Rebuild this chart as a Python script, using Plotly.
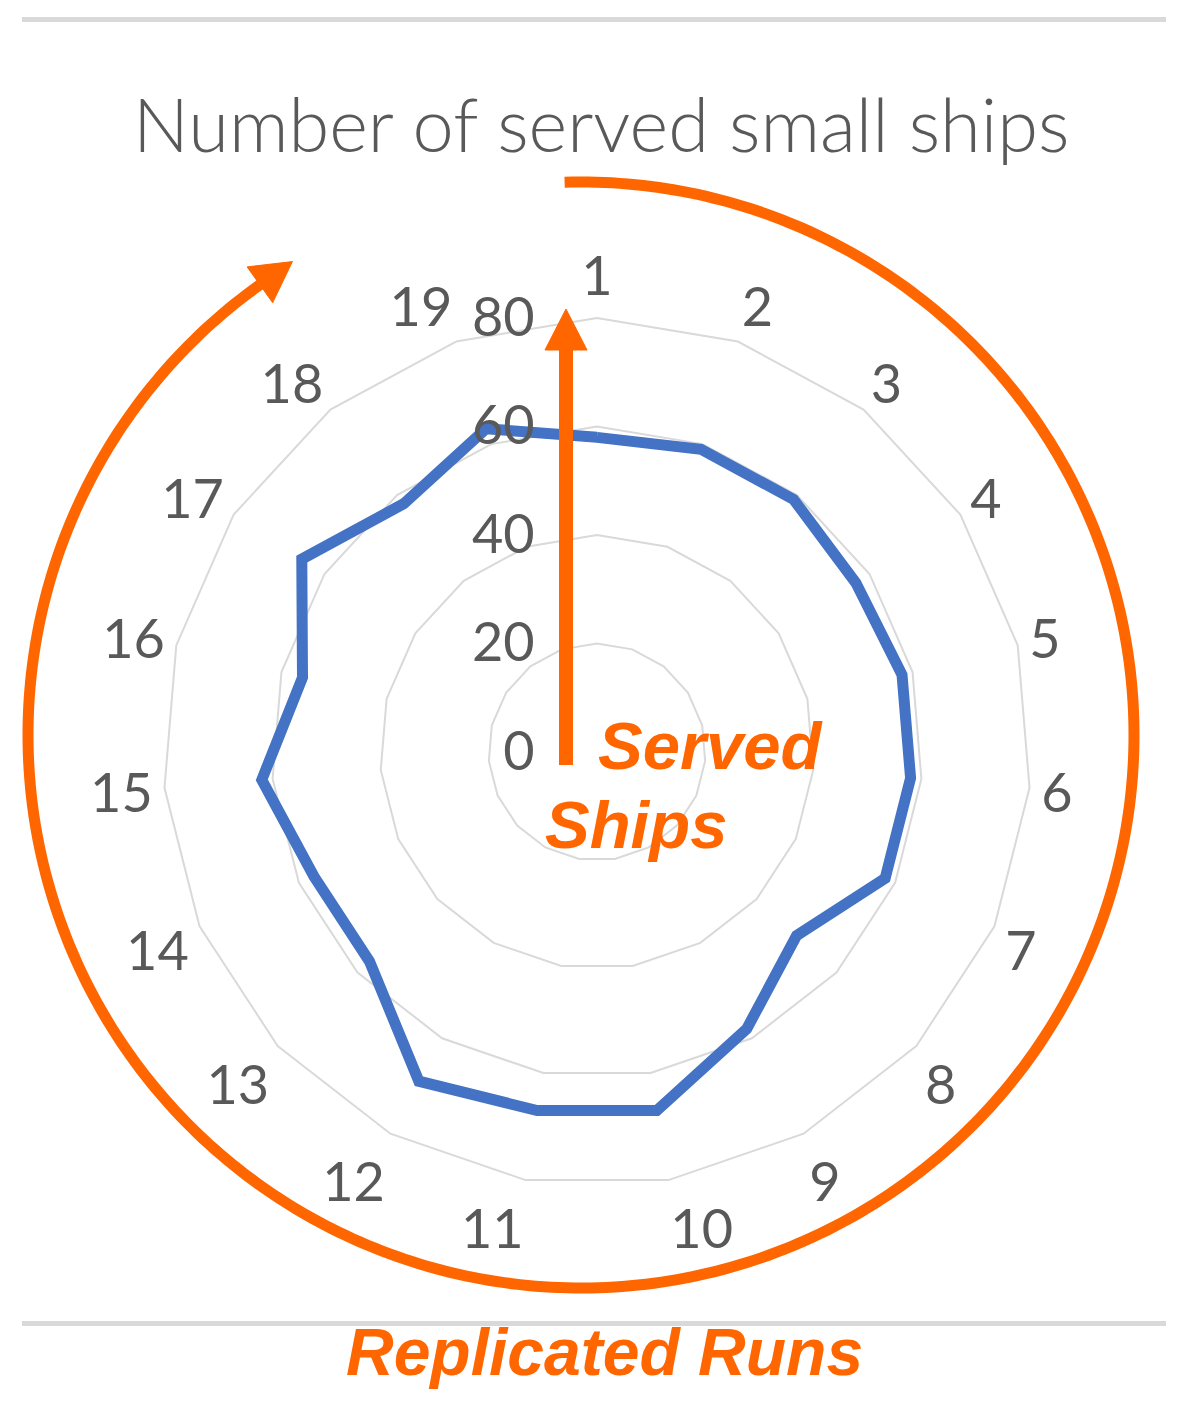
import numpy as np
import plotly.graph_objects as go

# ---------------- data ----------------
runs = [str(i) for i in range(1, 20)]
served = [58, 59, 59, 57, 58, 58, 58, 50, 58, 67, 67, 69, 57, 57, 62, 56, 65, 58, 63]
radial_ticks = [0, 20, 40, 60, 80]

title_text = "Number of served small ships"
inner_label_1 = "Served"
inner_label_2 = "Ships"
outer_label = "Replicated Runs"

# ---------------- layout helpers ----------------
OFF = 8                      # default page margin of the html body
FW, FH = 1190 - OFF, 1408 - OFF
ORANGE = "#FF6600"
GRAY_TXT = "#595959"
GRID = "#D9D9D9"


def px(x):
    return (x - OFF) / FW


def py(y):
    return 1 - (y - OFF) / FH


def path_from(points, close=False):
    s = "M " + " L ".join(f"{px(x):.5f},{py(y):.5f}" for x, y in points)
    return s + (" Z" if close else "")


# polar placement (page pixels)
CX, CY, R = 597, 752, 434

fig = go.Figure()
fig.add_trace(go.Scatterpolar(
    r=served + served[:1],
    theta=runs + runs[:1],
    mode="lines",
    line=dict(color="#4472C4", width=11),
    showlegend=False,
    hoverinfo="skip",
))

shapes = []
# gray separator lines
for yy in (19.5, 1323.5):
    shapes.append(dict(type="line", xref="paper", yref="paper",
                       x0=px(22), x1=px(1166), y0=py(yy), y1=py(yy),
                       line=dict(color=GRID, width=5), layer="above"))

# circular arrow (decoration)
acx, acy, ar = 581, 735, 553
th = np.radians(np.linspace(-1.7, 324.5, 400))
arc_pts = [(acx + ar * np.sin(t), acy - ar * np.cos(t)) for t in th]
shapes.append(dict(type="path", xref="paper", yref="paper", path=path_from(arc_pts),
                   line=dict(color=ORANGE, width=11), layer="above"))
# arrow head on the circular arrow
t_end = np.radians(324.5)
base = np.array([acx + ar * np.sin(t_end), acy - ar * np.cos(t_end)])
d = np.array([np.cos(t_end), np.sin(t_end)])
d = d / np.linalg.norm(d)
tip = base + 40 * d
perp = np.array([-d[1], d[0]])
c1 = base + 22 * perp
c2 = base - 22 * perp
shapes.append(dict(type="path", xref="paper", yref="paper",
                   path=path_from([tuple(tip), tuple(c1), tuple(c2)], close=True),
                   fillcolor=ORANGE, line=dict(color=ORANGE, width=1), layer="above"))

# vertical arrow
shapes.append(dict(type="line", xref="paper", yref="paper",
                   x0=px(566), x1=px(566), y0=py(765), y1=py(346),
                   line=dict(color=ORANGE, width=14), layer="above"))
shapes.append(dict(type="path", xref="paper", yref="paper",
                   path=path_from([(566, 309), (587, 350), (545, 350)], close=True),
                   fillcolor=ORANGE, line=dict(color=ORANGE, width=1), layer="above"))

label_font = dict(family="Liberation Sans", size=67, color=ORANGE, weight="bold", style="italic")
annotations = [
    dict(text=title_text, x=px(601), y=py(123), xref="paper", yref="paper",
         xanchor="center", yanchor="middle", showarrow=False,
         font=dict(family="Lato", size=74, color=GRAY_TXT, weight=300)),
    dict(text=inner_label_1, x=px(596), y=py(745), xref="paper", yref="paper",
         xanchor="left", yanchor="middle", showarrow=False, font=label_font),
    dict(text=inner_label_2, x=px(543), y=py(825), xref="paper", yref="paper",
         xanchor="left", yanchor="middle", showarrow=False, font=label_font),
    dict(text=outer_label, x=px(604), y=py(1352), xref="paper", yref="paper",
         xanchor="center", yanchor="middle", showarrow=False,
         font=dict(family="Liberation Sans", size=66, color=ORANGE, weight="bold", style="italic")),
]

fig.update_layout(
    width=FW, height=FH,
    margin=dict(l=0, r=0, t=0, b=0),
    paper_bgcolor="white",
    plot_bgcolor="white",
    showlegend=False,
    shapes=shapes,
    annotations=annotations,
    polar=dict(
        domain=dict(x=[px(CX - R), px(CX + R)], y=[py(CY + R), py(CY - R)]),
        bgcolor="white",
        gridshape="linear",
        angularaxis=dict(
            type="category", categoryorder="array", categoryarray=runs,
            rotation=90, direction="clockwise",
            showgrid=False, showline=True, linecolor=GRID, linewidth=2,
            ticks="",
            tickfont=dict(family="Lato", size=54, color=GRAY_TXT),
        ),
        radialaxis=dict(
            range=[0, 80], tickvals=radial_ticks, ticktext=[str(v) for v in radial_ticks],
            angle=90, side="counterclockwise", tickangle=90,
            showline=False, gridcolor=GRID, gridwidth=2,
            ticks="outside", ticklen=43, tickcolor="rgba(0,0,0,0)",
            tickfont=dict(family="Lato", size=54, color=GRAY_TXT),
        ),
    ),
)

fig.write_html("out.html")
